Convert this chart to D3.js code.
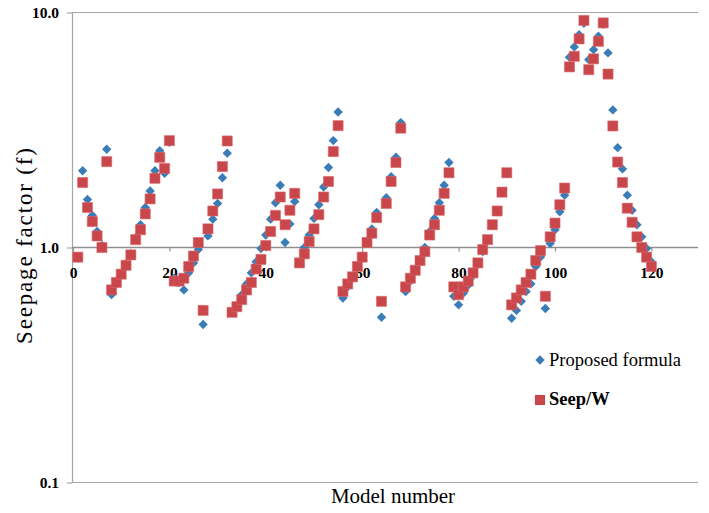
<!DOCTYPE html>
<html>
<head>
<meta charset="utf-8">
<script src="https://cdn.jsdelivr.net/npm/d3@7"></script>
<style>
  html, body { margin: 0; padding: 0; background: #fff; }
  svg { display: block; }
  svg text { font-family: "Liberation Serif", "Times New Roman", serif; fill: #000; }
</style>
</head>
<body>
<svg id="chart" width="709" height="513"></svg>
<script>
// ---- data ----
const models = d3.range(1, 121);
const proposedFormula = [
  0.90, 2.12, 1.60, 1.37, 1.17, 1.02, 2.62, 0.63, 0.70, 0.77,
  0.85, 0.94, 1.10, 1.25, 1.48, 1.74, 2.12, 2.58, 2.07, 2.80,
  0.74, 0.71, 0.66, 0.78, 0.86, 0.98, 0.47, 1.12, 1.32, 1.54,
  1.98, 2.52, 0.53, 0.57, 0.63, 0.70, 0.78, 0.87, 0.99, 1.13,
  1.32, 1.55, 1.84, 1.05, 1.26, 1.57, 0.87, 1.00, 1.13, 1.33,
  1.52, 1.81, 2.19, 2.85, 3.77, 0.61, 0.68, 0.74, 0.82, 0.92,
  1.06, 1.20, 1.41, 0.505, 1.63, 2.00, 2.42, 3.40, 0.65, 0.72,
  0.79, 0.88, 1.00, 1.17, 1.33, 1.55, 1.84, 2.30, 0.62, 0.57,
  0.64, 0.69, 0.76, 0.85, 0.96, 1.07, 1.24, 1.42, 1.71, 2.07,
  0.50, 0.54, 0.59, 0.65, 0.70, 0.83, 0.91, 0.55, 1.04, 1.19,
  1.42, 1.67, 6.45, 7.14, 8.05, 9.00, 6.30, 6.95, 7.92, 8.90,
  6.73, 3.85, 2.66, 2.16, 1.67, 1.44, 1.25, 1.11, 0.99, 0.87
];
const seepW = [
  0.91, 1.89, 1.48, 1.29, 1.12, 1.00, 2.32, 0.66, 0.71, 0.77,
  0.84, 0.93, 1.08, 1.19, 1.39, 1.61, 1.97, 2.42, 2.17, 2.85,
  0.72, 0.72, 0.74, 0.83, 0.92, 1.05, 0.54, 1.20, 1.43, 1.69,
  2.21, 2.84, 0.53, 0.56, 0.60, 0.66, 0.71, 0.81, 0.89, 1.02,
  1.17, 1.37, 1.64, 1.25, 1.44, 1.70, 0.86, 0.94, 1.06, 1.20,
  1.38, 1.64, 1.91, 2.56, 3.30, 0.65, 0.70, 0.75, 0.83, 0.91,
  1.05, 1.15, 1.34, 0.59, 1.54, 1.91, 2.30, 3.22, 0.68, 0.74,
  0.80, 0.88, 0.96, 1.13, 1.25, 1.44, 1.70, 2.08, 0.68, 0.63,
  0.68, 0.72, 0.78, 0.86, 0.98, 1.08, 1.25, 1.43, 1.72, 2.08,
  0.57, 0.61, 0.66, 0.71, 0.77, 0.88, 0.97, 0.62, 1.11, 1.27,
  1.52, 1.79, 5.87, 6.51, 7.72, 9.25, 5.71, 6.35, 7.54, 9.03,
  5.47, 3.29, 2.31, 1.89, 1.47, 1.28, 1.11, 1.00, 0.91, 0.83
];
const xTicks = [0, 20, 40, 60, 80, 100, 120];
const yTicks = [0.1, 1, 10];
const yTickLabels = ["0.1", "1.0", "10.0"];
const seriesNames = ["Proposed formula", "Seep/W"];
const seriesColors = ["#3A7CB8", "#C9474B"];
const serif = "'Liberation Serif', 'Times New Roman', serif";

// ---- scales ----
const svg = d3.select("#chart");
const plotLeft = 72, plotRight = 698;
const x = d3.scaleLinear().domain([0, 130]).range([73, 699.6]);
const y = d3.scaleLog().domain([0.1, 10]).range([482.5, 12.5]);

// horizontal lines at 10 and 0.1
svg.append("g").selectAll("line").data([10, 0.1]).join("line")
  .attr("x1", plotLeft).attr("x2", plotRight)
  .attr("y1", d => y(d)).attr("y2", d => y(d))
  .attr("stroke", "#a6a6a6").attr("stroke-width", 1.2);

// left axis
const yAxis = svg.append("g").attr("transform", `translate(${plotLeft},0)`)
  .attr("font-family", serif)
  .call(d3.axisLeft(y).tickValues(yTicks)
    .tickFormat((d, i) => yTickLabels[i]).tickSize(5).tickSizeOuter(0).tickPadding(8));
yAxis.attr("font-family", serif);
yAxis.select(".domain").attr("stroke", "#a6a6a6").attr("stroke-width", 1.2);
yAxis.selectAll(".tick line").attr("stroke", "#a6a6a6").attr("stroke-width", 1.2);
yAxis.selectAll(".tick text")
  .style("font-family", serif)
  .style("font-weight", "bold").style("font-size", "15.5px").attr("fill", "#000");

// x axis crossing at 1.0
const xAxis = svg.append("g").attr("transform", `translate(0,${y(1)})`)
  .call(d3.axisBottom(x).tickValues(xTicks).tickSize(4).tickSizeOuter(0).tickPadding(15));
xAxis.attr("font-family", serif);
xAxis.select(".domain").remove();
xAxis.insert("line", ":first-child")
  .attr("x1", plotLeft).attr("x2", plotRight).attr("y1", 0).attr("y2", 0)
  .attr("stroke", "#8f8f8f").attr("stroke-width", 1.5);
xAxis.selectAll(".tick line").attr("stroke", "#8f8f8f").attr("stroke-width", 1.2);
xAxis.selectAll(".tick text")
  .style("font-family", serif)
  .style("font-weight", "bold").style("font-size", "15.5px").attr("fill", "#000");

// markers
const diamond = d3.symbol().type(d3.symbolSquare).size(44);
const square = d3.symbol().type(d3.symbolSquare).size(102);

svg.append("g").selectAll("path").data(models).join("path")
  .attr("d", diamond)
  .attr("transform", (d, i) => `translate(${x(d)},${y(proposedFormula[i])}) rotate(45)`)
  .attr("fill", seriesColors[0]);

svg.append("g").selectAll("path").data(models).join("path")
  .attr("d", square)
  .attr("transform", (d, i) => `translate(${x(d)},${y(seepW[i])})`)
  .attr("fill", seriesColors[1])
  .attr("stroke", "#d86a6c").attr("stroke-width", 0.6);

// axis titles
svg.append("text")
  .attr("transform", "translate(32,246) rotate(-90)")
  .attr("text-anchor", "middle")
  .attr("textLength", 196).attr("lengthAdjust", "spacing")
  .style("font-family", serif)
  .style("font-size", "23px")
  .text("Seepage factor (f)");

svg.append("text")
  .attr("x", 393).attr("y", 503)
  .attr("text-anchor", "middle")
  .style("font-family", serif)
  .style("font-size", "21px")
  .text("Model number");

// legend
const leg = svg.append("g");
leg.append("path").attr("d", diamond)
  .attr("transform", "translate(540,360) rotate(45)").attr("fill", seriesColors[0]);
leg.append("text").attr("x", 549).attr("y", 366)
  .style("font-family", serif)
  .style("font-size", "18.5px").text(seriesNames[0]);
leg.append("path").attr("d", square)
  .attr("transform", "translate(540,400)").attr("fill", seriesColors[1]);
leg.append("text").attr("x", 549).attr("y", 405)
  .style("font-family", serif)
  .style("font-size", "18.5px").style("font-weight", "bold").text(seriesNames[1]);
</script>
</body>
</html>
